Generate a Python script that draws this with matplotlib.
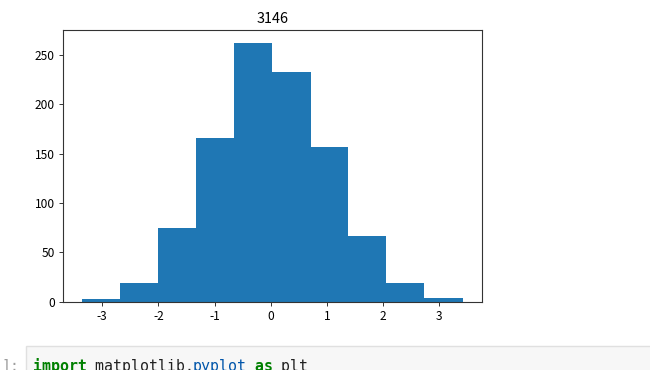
import matplotlib
matplotlib.use("Agg")
import matplotlib.pyplot as plt
from matplotlib.patches import Rectangle


# --- data ---
bin_edges = [-3.36, -2.68, -2.00, -1.33, -0.65, 0.03, 0.71, 1.38, 2.06, 2.74, 3.42]
counts = [3, 19, 75, 166, 262, 233, 157, 67, 19, 4]
title = "3146"
code_line = ["import", " matplotlib.", "pyplot", " as", " plt"]
code_colors = ["#008000", "#212121", "#0055aa", "#008000", "#212121"]
code_weights = ["bold", "normal", "normal", "bold", "normal"]

W, H, DPI = 650, 370, 100

plt.rcParams['font.family'] = ['Noto Sans CJK SC', 'DejaVu Sans']
plt.rcParams['axes.unicode_minus'] = False

fig = plt.figure(figsize=(W / DPI, H / DPI), dpi=DPI)

# axes placed in pixel terms of the screenshot
left, right, top, bottom = 63, 481.7, 30, 301.7
ax = fig.add_axes([left / W, (H - bottom) / H, (right - left) / W, (bottom - top) / H])

ax.hist(bin_edges[:-1], bins=bin_edges, weights=counts, color='#1f77b4')
ax.set_title(title, fontsize=10.4, pad=5.2)
ax.tick_params(labelsize=8.6, length=3, width=0.7, pad=3, color='#333333')
for sp in ax.spines.values():
    sp.set_linewidth(0.8)
    sp.set_color('#333333')

# --- the notebook code cell peeking in at the bottom ---
fig.patches.append(Rectangle((26 / W, -0.1), 1, (H - 346) / H + 0.1,
                             transform=fig.transFigure, facecolor='#f7f7f7',
                             edgecolor='#e0e0e0', linewidth=1))
fig.text(1 / W, (H - 371) / H, "]:", color='#9e9e9e',
         family='DejaVu Sans Mono', fontsize=10.7)

char_w = 8.87
x0 = 32.7
pos = 0
for chunk, col, wt in zip(code_line, code_colors, code_weights):
    fig.text((x0 + pos * char_w) / W, (H - 371) / H, chunk, color=col,
             family='DejaVu Sans Mono', fontsize=10.7, fontweight=wt)
    pos += len(chunk)

fig.savefig("out.png", dpi=DPI)
